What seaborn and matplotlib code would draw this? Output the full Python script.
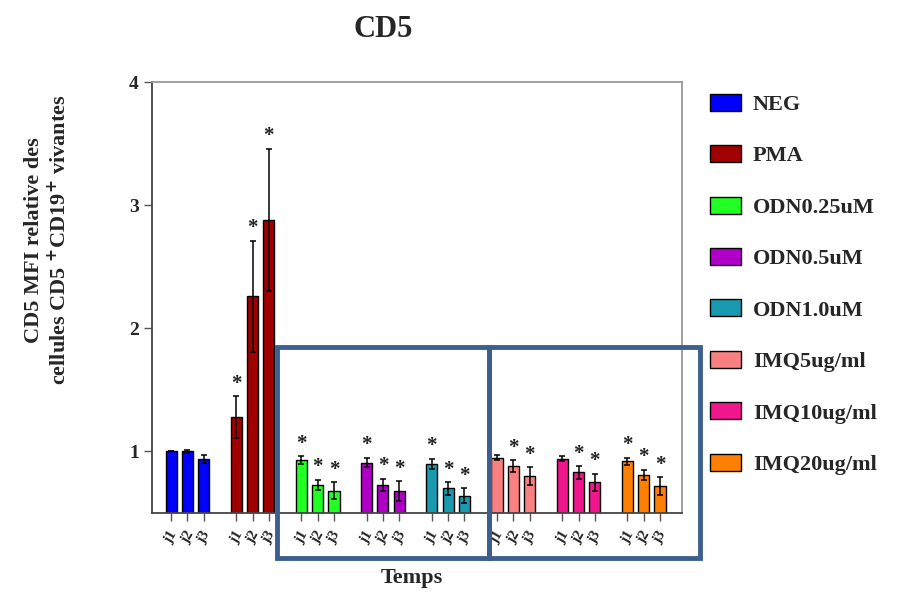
import numpy as np
import pandas as pd
import matplotlib
matplotlib.use("Agg")
import matplotlib.pyplot as plt
import matplotlib.patches as mpatches
import seaborn as sns

groups = ["NEG", "PMA", "ODN0.25uM", "ODN0.5uM", "ODN1.0uM",
          "IMQ5ug/ml", "IMQ10ug/ml", "IMQ20ug/ml"]
days = ["j1", "j2", "j3"]
colors = ["#0000FF", "#A00000", "#22FF22", "#B000C8", "#1A9AB0",
          "#F88080", "#F0168C", "#FF8000"]
means = [
    [1.00, 1.00, 0.94],
    [1.28, 2.26, 2.88],
    [0.93, 0.73, 0.68],
    [0.91, 0.73, 0.68],
    [0.90, 0.70, 0.64],
    [0.95, 0.88, 0.80],
    [0.94, 0.83, 0.75],
    [0.92, 0.81, 0.72],
]
errs = [
    [0.00, 0.01, 0.03],
    [0.17, 0.45, 0.58],
    [0.03, 0.04, 0.07],
    [0.04, 0.05, 0.08],
    [0.04, 0.05, 0.06],
    [0.02, 0.05, 0.07],
    [0.02, 0.05, 0.07],
    [0.03, 0.04, 0.07],
]
stars = [
    [False, False, False],
    [True, True, True],
    [True, True, True],
    [True, True, True],
    [True, True, True],
    [False, True, True],
    [False, True, True],
    [True, True, True],
]

rows = []
for gi, g in enumerate(groups):
    for di, d in enumerate(days):
        rows.append(dict(group=g, day=d, pos=gi * 4 + di,
                         value=means[gi][di], err=errs[gi][di],
                         star=stars[gi][di]))
df = pd.DataFrame(rows)

sns.set_style("white")
plt.rcParams["font.family"] = ["Liberation Serif", "DejaVu Serif"]
plt.rcParams["font.weight"] = "bold"

fig = plt.figure(figsize=(9.03, 5.93), dpi=100)
ax = fig.add_axes([0.1683, 0.1349, 0.587, 0.7268])

sns.barplot(data=df, x="pos", y="value", hue="group", hue_order=groups,
            palette=colors, native_scale=True, dodge=False, width=0.68,
            saturation=1, edgecolor="black", linewidth=1.0, errorbar=None,
            legend=False, ax=ax)

ax.errorbar(df["pos"], df["value"], yerr=df["err"], fmt="none",
            ecolor="black", elinewidth=1.1, capsize=2.5, capthick=1.1, zorder=5)

for _, r in df[df["star"]].iterrows():
    ax.text(r["pos"], r["value"] + r["err"] + 0.02, "*", ha="center", va="bottom",
            fontsize=15, fontweight="bold", color="#222222")

ax.set_ylim(0.5, 4.0)
ax.set_xlim(-1.17, 31.35)
ax.set_yticks([1, 2, 3, 4])
ax.set_yticklabels(["1", "2", "3", "4"], fontsize=14, fontweight="bold")
ax.set_xticks(df["pos"])
ax.set_xticklabels(df["day"], rotation=60, ha="center", fontsize=11, fontweight="bold")
ax.tick_params(axis="both", direction="out", length=6, width=1.0, color="#555555", bottom=True, left=True)
ax.tick_params(axis="x", pad=5)
ax.set_xlabel("")
ax.set_ylabel("")
for s in ["left", "bottom"]:
    ax.spines[s].set_color("#444444")
    ax.spines[s].set_linewidth(1.3)
for s in ["top", "right"]:
    ax.spines[s].set_color("#999999")
    ax.spines[s].set_linewidth(1.3)

fig.text(0.424, 0.95, "CD5", ha="center", va="center", fontsize=22, fontweight="bold")
fig.text(0.456, 0.025, "Temps", ha="center", va="center", fontsize=16, fontweight="bold")
fig.text(0.053, 0.595, "CD5 MFI relative des\ncellules CD5 $^{+}$CD19$^{+}$ vivantes",
         ha="center", va="center", rotation=90, fontsize=16, fontweight="bold",
         linespacing=1.2)

handles = [mpatches.Patch(facecolor=c, edgecolor="black", linewidth=1.0, label=g)
           for g, c in zip(groups, colors)]
fig.legend(handles=handles, loc="upper left", bbox_to_anchor=(0.776, 0.857),
           frameon=False, prop=dict(family="Liberation Serif", weight="bold", size=16),
           handlelength=1.4, handleheight=0.8, labelspacing=1.36, handletextpad=0.55,
           borderaxespad=0)

# highlight boxes
for x0, x1 in [(277, 489), (489, 700)]:
    rect = mpatches.Rectangle((x0 / 903, 1 - 558 / 593), (x1 - x0) / 903, (558 - 347) / 593,
                              transform=fig.transFigure, fill=False,
                              edgecolor="#3D5F8F", linewidth=3.5, zorder=10)
    fig.patches.append(rect)

fig.savefig("out.png", dpi=100)
